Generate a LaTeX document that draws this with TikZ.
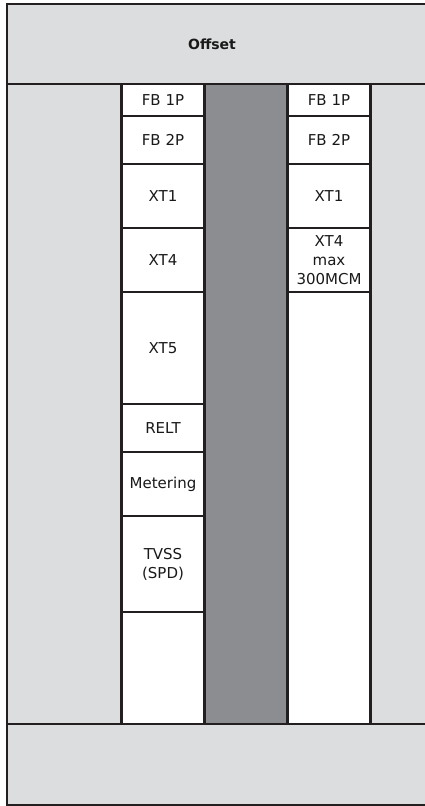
\documentclass[tikz,border=0pt]{standalone}
\usepackage{fontspec}
\setmainfont{DejaVu Sans}
\usetikzlibrary{positioning}
\definecolor{cPanel}{RGB}{220,221,223}
\definecolor{cBus}{RGB}{140,141,144}
\definecolor{cLine}{RGB}{35,31,32}
\tikzset{
	slot/.style ={rectangle, draw=cLine, line width=2.5pt, fill=white, minimum width=83pt, inner sep=0pt, outer sep=0pt, align=center, text=black!90},
	zone/.style ={rectangle, draw=cLine, line width=2.5pt, fill=cPanel, inner sep=0pt, outer sep=0pt},
}
\begin{document}
\begin{tikzpicture}[x=1pt, y=-1pt, font=\fontsize{15}{19}\selectfont]
	\useasboundingbox (0,0) rectangle (424,806);
	% enclosure
	\draw[line width=2.5pt, draw=cLine, fill=cPanel] (440,4) -- (7,4) -- (7,805) -- (440,805);
	% offset and bottom gutter
	\node[zone, minimum width=433pt, minimum height=80pt, anchor=north west] (offset) at (7,4) {};
	\node[font=\fontsize{14}{16}\selectfont\bfseries, text=black!90] (offsetlbl) at (212,44) {Offset};
	\node[zone, minimum width=433pt, minimum height=81pt, anchor=north west] (gutter) at (7,724) {};
	% bus
	\node[zone, fill=cBus, minimum width=82pt, minimum height=640pt, anchor=north west] (bus) at (205,84) {};
	% left column
	\foreach \top/\bot/\txt [count=\i] in {84/116/FB 1P, 116/164/FB 2P, 164/228/XT1, 228/292/XT4, 292/404/XT5, 404/452/RELT, 452/516/Metering, 516/612/{TVSS\\(SPD)}, 612/724/{}} {
		\pgfmathsetmacro\hh{\bot-\top}
		\pgfmathsetmacro\yy{(\top+\bot)/2}
		\node[slot, minimum height=\hh pt] (l\i) at (163,\yy) {\txt};
	}
	% right column
	\foreach \top/\bot/\txt [count=\i] in {84/116/FB 1P, 116/164/FB 2P, 164/228/XT1, 228/292/{XT4\\max\\300MCM}, 292/724/{}} {
		\pgfmathsetmacro\hh{\bot-\top}
		\pgfmathsetmacro\yy{(\top+\bot)/2}
		\node[slot, minimum height=\hh pt] (r\i) at (329,\yy) {\txt};
	}
\end{tikzpicture}
\end{document}
